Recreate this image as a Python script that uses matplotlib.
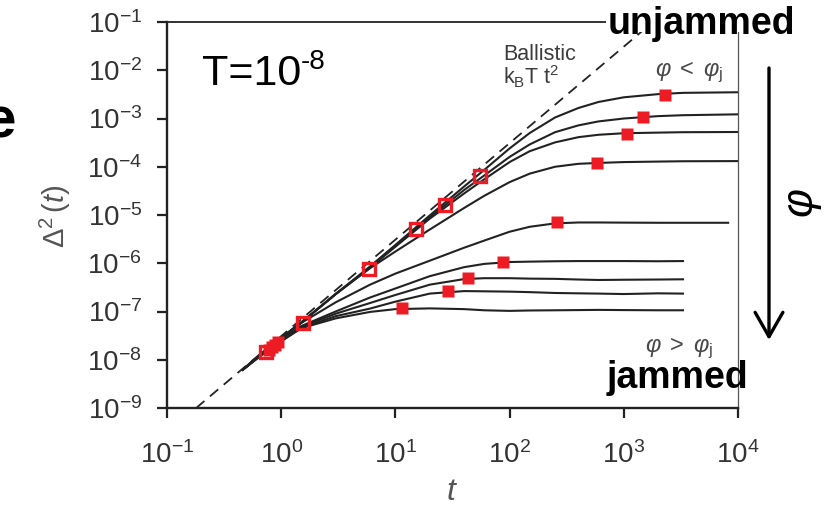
import matplotlib
matplotlib.use("Agg")
import matplotlib.pyplot as plt
from matplotlib.patches import Rectangle

plt.rcParams["font.family"] = ["Liberation Sans", "DejaVu Sans"]
plt.rcParams["mathtext.fontset"] = "custom"
plt.rcParams["mathtext.rm"] = "Liberation Sans"
plt.rcParams["mathtext.it"] = "Liberation Sans:italic"
plt.rcParams["mathtext.bf"] = "Liberation Sans:bold"

# ---------------------------------------------------------------
# Data
# ---------------------------------------------------------------
t_grid = [0.46, 0.8, 1.5, 3, 6, 10, 20, 40, 60, 100, 150, 250, 400, 600, 1000, 2000, 3300]
t_long = t_grid + [10000]
t_mid = t_grid + [8200]

msd_1 = [6.2e-9, 1.9e-8, 5.9e-8, 2.3e-7, 8.6e-7, 2.4e-6, 9.8e-6, 3.9e-5, 8.6e-5, 2.4e-4,
         5.0e-4, 1.05e-3, 1.65e-3, 2.2e-3, 2.75e-3, 3.2e-3, 3.4e-3, 3.5e-3]
msd_2 = [6.2e-9, 1.9e-8, 5.9e-8, 2.3e-7, 8.3e-7, 2.3e-6, 9.0e-6, 3.3e-5, 6.6e-5, 1.6e-4,
         2.9e-4, 5.2e-4, 7.2e-4, 8.7e-4, 1.0e-3, 1.12e-3, 1.17e-3, 1.22e-3]
msd_3 = [6.2e-9, 1.9e-8, 5.9e-8, 2.3e-7, 8.1e-7, 2.2e-6, 8.4e-6, 2.8e-5, 5.5e-5, 1.25e-4,
         2.1e-4, 3.2e-4, 4.1e-4, 4.6e-4, 4.95e-4, 5.1e-4, 5.2e-4, 5.25e-4]
msd_4 = [6.2e-9, 1.9e-8, 5.9e-8, 2.3e-7, 7.9e-7, 1.75e-6, 5.0e-6, 1.4e-5, 2.5e-5, 4.8e-5,
         7.2e-5, 1.0e-4, 1.15e-4, 1.2e-4, 1.25e-4, 1.28e-4, 1.3e-4, 1.31e-4]
msd_5 = [6.2e-9, 1.9e-8, 5.8e-8, 1.55e-7, 3.6e-7, 6.1e-7, 1.13e-6, 2.1e-6, 2.95e-6, 4.5e-6,
         5.7e-6, 6.7e-6, 7.0e-6, 7.0e-6, 6.95e-6, 6.9e-6, 6.9e-6, 6.9e-6]
msd_6 = [6.2e-9, 1.85e-8, 5.0e-8, 1.0e-7, 1.95e-7, 3.0e-7, 5.4e-7, 8.3e-7, 9.7e-7, 1.06e-6,
         1.08e-6, 1.1e-6, 1.11e-6, 1.11e-6, 1.11e-6, 1.1e-6, 1.11e-6]
msd_7 = [6.2e-9, 1.8e-8, 4.8e-8, 9.0e-8, 1.5e-7, 2.2e-7, 3.6e-7, 4.7e-7, 4.9e-7, 4.9e-7,
         4.8e-7, 4.75e-7, 4.6e-7, 4.5e-7, 4.55e-7, 4.6e-7, 4.65e-7]
msd_8 = [6.2e-9, 1.75e-8, 4.6e-8, 8.0e-8, 1.15e-7, 1.6e-7, 2.35e-7, 2.65e-7, 2.62e-7,
         2.58e-7, 2.52e-7, 2.42e-7, 2.38e-7, 2.35e-7, 2.3e-7, 2.38e-7, 2.35e-7]
msd_9 = [6.2e-9, 1.7e-8, 4.5e-8, 7.2e-8, 9.8e-8, 1.12e-7, 1.16e-7, 1.12e-7, 1.06e-7,
         1.03e-7, 1.05e-7, 1.06e-7, 1.07e-7, 1.08e-7, 1.07e-7, 1.06e-7, 1.06e-7]

curves = [
    (t_long, msd_1), (t_long, msd_2), (t_long, msd_3), (t_long, msd_4),
    (t_mid, msd_5), (t_grid, msd_6), (t_grid, msd_7), (t_grid, msd_8), (t_grid, msd_9),
]

# ballistic line k_B T t^2 (end points)
ballistic_t = [0.18, 1800]
ballistic_msd = [1e-9, 1e-1]

# plateau onset (filled) and ballistic departure (open) markers
plateau_t = [2300, 1460, 1060, 578, 258, 87, 43, 28.7, 11.4, 0.78, 0.83, 0.88, 0.93]
plateau_msd = [3.07e-3, 1.07e-3, 4.8e-4, 1.2e-4, 7.2e-6, 1.06e-6, 4.9e-7, 2.66e-7,
               1.18e-7, 1.6e-8, 1.8e-8, 2.05e-8, 2.3e-8]
departure_t = [54.7, 27, 15, 5.85, 1.55, 0.74]
departure_msd = [6.4e-5, 1.6e-5, 5.1e-6, 7.6e-7, 5.8e-8, 1.45e-8]

RED = "#ED1C24"
INK = "#222222"
W, H = 825, 507


def fpos(x, y):
    """Pixel position (from top-left) to figure fraction."""
    return x / W, 1 - y / H


fig = plt.figure(figsize=(W / 100, H / 100), dpi=100)
ax = fig.add_axes([167 / W, 1 - 408 / H, (738 - 167) / W, (408 - 22) / H])

for t, msd in curves:
    ax.plot(t, msd, color=INK, lw=1.5, solid_joinstyle="round")

ax.plot(ballistic_t, ballistic_msd, color=INK, lw=1.3, dashes=(6, 4))

ax.plot(departure_t, departure_msd, "s", mfc="none", mec=RED, mew=2.4, ms=8.5,
        zorder=4)
ax.plot(plateau_t, plateau_msd, "s", color=RED, ms=9, mec="none", zorder=5)

ax.set_xscale("log")
ax.set_yscale("log")
ax.set_xlim(1e-1, 1e4)
ax.set_ylim(1e-9, 1e-1)
ax.set_xticks([10.0 ** k for k in range(-1, 5)])
ax.set_yticks([10.0 ** k for k in range(-9, 0)])
ax.minorticks_off()

ax.tick_params(axis="both", direction="out", length=7, width=1.6, color=INK,
               labelcolor="#333333", labelsize=20)
ax.tick_params(axis="x", pad=17)
ax.tick_params(axis="y", pad=11)

for side in ["left", "bottom"]:
    ax.spines[side].set_linewidth(1.7)
    ax.spines[side].set_color(INK)
ax.spines["top"].set_linewidth(1.3)
ax.spines["top"].set_color(INK)
ax.spines["right"].set_linewidth(0.9)
ax.spines["right"].set_color("#555555")

# axis labels
fig.text(*fpos(55, 216), r"$\mathit{\Delta}^2\,(t)$", rotation=90, fontsize=21,
         color="#555555", ha="center", va="center")
fig.text(*fpos(452, 492), r"$t$", fontsize=23, color="#555555", ha="center",
         va="center")

# annotations inside the plot
fig.text(*fpos(202, 85), "T=10", fontsize=31, color="black", va="baseline")
fig.text(*fpos(301, 69), "-8", fontsize=20, color="black", va="baseline")
fig.text(*fpos(503, 60), "Ballistic", fontsize=15.5, color="#3c3c3c", va="baseline")
fig.text(*fpos(503, 84), r"k$_\mathrm{B}$T t$^2$", fontsize=15.5, color="#3c3c3c",
         va="baseline")
fig.text(*fpos(655, 76), r"$\varphi\;<\;\varphi_{\mathrm{j}}$", fontsize=17,
         color="#4a4a4a", va="baseline")
fig.text(*fpos(645, 352), r"$\varphi\;>\;\varphi_{\mathrm{j}}$", fontsize=17,
         color="#4a4a4a", va="baseline")

# labels outside the plot
fig.add_artist(Rectangle(fpos(606, 32), 200 / W, 32 / H, transform=fig.transFigure,
                         facecolor="white", edgecolor="none", zorder=3))
fig.text(*fpos(608, 34), "unjammed", fontsize=27, fontweight="bold",
         color="black", va="baseline", zorder=4)
fig.text(*fpos(607, 388), "jammed", fontsize=27, fontweight="bold",
         color="black", va="baseline", zorder=4)
fig.text(*fpos(16, 122), "e", fontsize=42, fontweight="bold", color="black",
         ha="right", va="center")

ax.annotate("", xy=fpos(769, 340), xytext=fpos(769, 68), xycoords="figure fraction",
            textcoords="figure fraction",
            arrowprops=dict(arrowstyle="->,head_length=0.7,head_width=0.4",
                            lw=2.4, color="black", mutation_scale=25,
                            shrinkA=0, shrinkB=0))
fig.text(*fpos(803, 203), r"$\varphi$", rotation=90, fontsize=32, color="black",
         ha="center", va="center")

fig.savefig("out.png", dpi=100)
plt.close(fig)
